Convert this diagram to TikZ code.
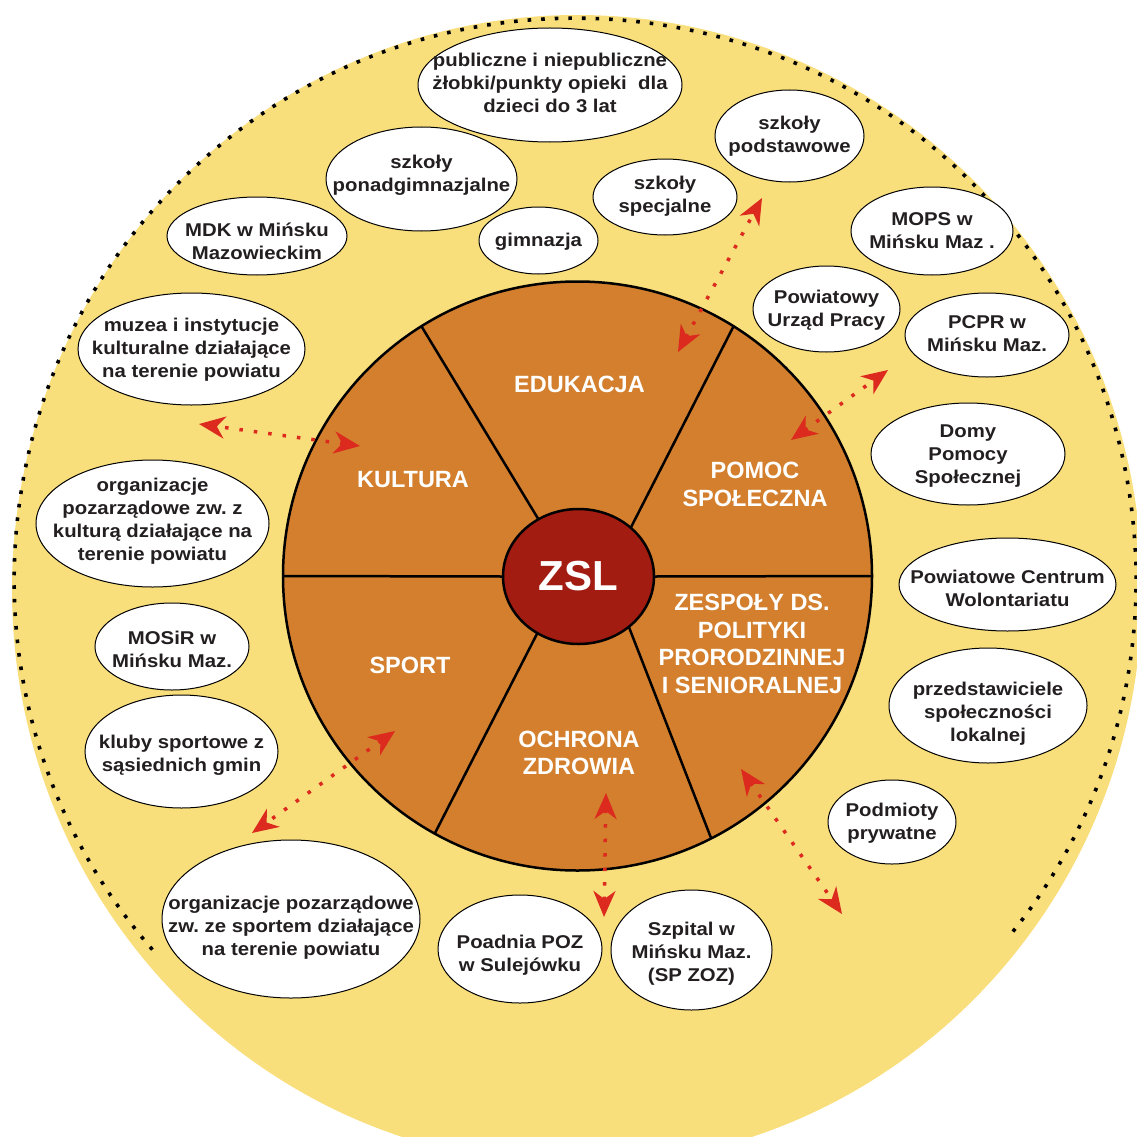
\documentclass[tikz,border=0pt]{standalone}
\usepackage{fontspec}
\setmainfont{Liberation Sans}
\newfontfamily\bubfam{Liberation Sans}[FakeStretch=1.1]
\usetikzlibrary{shapes.geometric,arrows.meta}
\definecolor{ylw}{HTML}{F9DE7C}
\definecolor{org}{HTML}{D37F2D}
\definecolor{zslred}{HTML}{A21C12}
\definecolor{arr}{HTML}{DC2A1E}
\definecolor{txt}{HTML}{231F20}
\newsavebox\bubbox
% text centred on the node centre, moved down by the optional amount (px), with no size of its own
\newcommand\btext[2][0]{\sbox\bubbox{\begin{tabular}{@{}c@{}}#2\end{tabular}}%
  \makebox[0pt]{\raisebox{\dimexpr(\dp\bubbox-\ht\bubbox)/2-#1pt\relax}[0pt][0pt]{\usebox\bubbox}}}
\begin{document}
\frenchspacing
\begin{tikzpicture}[x=1pt,y=-1pt,
  bub/.style={ellipse, draw=black, line width=1pt, fill=white, inner sep=0pt, outer sep=0pt,
    font=\bubfam\bfseries\fontsize{18.5}{23}\selectfont, text=txt},
  sz/.style 2 args={minimum width=#1pt, minimum height=#2pt},
  seg/.style={align=center, text=white, inner sep=0pt, font=\bfseries\fontsize{23.5}{27.5}\selectfont},
  link/.style={arr, line width=3.5pt, dash pattern=on 3.5pt off 11pt,
    {Stealth[length=26pt,width=22pt,inset=8pt]}-{Stealth[length=26pt,width=22pt,inset=8pt]}},
  rim/.style={black, line width=3.6pt, dash pattern=on 3.6pt off 10pt},
  divider/.style={black, line width=2.5pt}]
\useasboundingbox (0,0) rectangle (1136,1137);
% background
\fill[ylw] (577,590) ellipse [x radius=565, y radius=575];
\draw[rim] (152.4,949.6) arc[start angle=138.9, end angle=399.7, x radius=561, y radius=562];
% central disc
\node[circle, draw=black, line width=2.5pt, fill=org, minimum size=589pt, inner sep=0pt, outer sep=0pt] (disc) at (577.5,576) {};
\node[ellipse, draw=black, line width=2.5pt, fill=zslred, minimum width=151pt, minimum height=135pt,
  inner sep=0pt, outer sep=0pt, text=white, font=\bfseries\fontsize{42}{50}\selectfont] (zsl) at (578.5,576.5) {ZSL};
\draw[divider] (zsl.125) -- (disc.122);
\draw[divider] (zsl.43) -- (disc.58);
\draw[divider] (zsl.180) -- (disc.180);
\draw[divider] (zsl.0) -- (disc.0);
\draw[divider] (zsl.234) -- (disc.241);
\draw[divider] (zsl.315) -- (disc.297);
% sector labels
\node[seg] (edu) at (579.5,384) {EDUKACJA};
\node[seg] (kul) at (413,480) {KULTURA};
\node[seg] (pom) at (755,484.5) {POMOC\\SPOŁECZNA};
\node[seg] (spo) at (410,665) {SPORT};
\node[seg] (och) at (579,753) {OCHRONA\\ZDROWIA};
\node[seg] (zes) at (752,644) {ZESPOŁY DS.\\POLITYKI\\PRORODZINNEJ\\I SENIORALNEJ};
% bubbles
\node[bub, sz={264}{114}] (zlobki) at (550,85) {\btext{publiczne i niepubliczne\\żłobki/punkty opieki\ \ dla\\dzieci do 3 lat}};
\node[bub, sz={191}{104}] (ponad) at (421.5,179) {\btext[-4]{szkoły\\ponadgimnazjalne}};
\node[bub, sz={119}{67}] (gim) at (538.5,240.5) {\btext[1.5]{gimnazja}};
\node[bub, sz={144}{76}] (spec) at (665,197) {\btext[-1]{szkoły\\specjalne}};
\node[bub, sz={149}{92}] (podst) at (789.5,136) {\btext[0.5]{szkoły\\podstawowe}};
\node[bub, sz={162}{88}] (mops) at (932,231) {\btext[1.5]{MOPS w\\Mińsku Maz .}};
\node[bub, sz={147}{86}] (pup) at (826.5,309) {\btext[1.5]{Powiatowy\\Urząd Pracy}};
\node[bub, sz={164}{84}] (pcpr) at (987,335) {\btext{PCPR w\\Mińsku Maz.}};
\node[bub, sz={180}{78}] (mdk) at (257,236) {\btext[7]{MDK w Mińsku\\Mazowieckim}};
\node[bub, sz={227}{112}] (muzea) at (191.5,349) {\btext[0.5]{muzea i instytucje\\kulturalne działające\\na terenie powiatu}};
\node[bub, sz={233}{127}] (ngokul) at (152.5,523.5) {\btext[-2.5]{organizacje\\pozarządowe zw. z\\kulturą działające na\\terenie powiatu}};
\node[bub, sz={154}{87}] (mosir) at (172,646.5) {\btext[4.5]{MOSiR w\\Mińsku Maz.}};
\node[bub, sz={193}{113}] (kluby) at (181.5,751.5) {\btext[3.5]{kluby sportowe z\\sąsiednich gmin}};
\node[bub, sz={258}{158}] (ngosport) at (291,919) {\btext[8.5]{organizacje pozarządowe\\zw. ze sportem działające\\na terenie powiatu}};
\node[bub, sz={164}{108}] (poz) at (520,949) {\btext[6]{Poadnia POZ\\w Sulejówku}};
\node[bub, sz={161}{120}] (szpital) at (691.5,950) {\btext[3.5]{Szpital w\\Mińsku Maz.\\(SP ZOZ)}};
\node[bub, sz={128}{84}] (prywatne) at (892,822) {\btext[1.5]{Podmioty\\prywatne}};
\node[bub, sz={198}{115}] (lokalni) at (988,705.5) {\btext[8.5]{przedstawiciele\\społeczności\\lokalnej}};
\node[bub, sz={217}{93}] (pcw) at (1007.5,584.5) {\btext[6]{Powiatowe Centrum\\Wolontariatu}};
\node[bub, sz={194}{102}] (dps) at (968,454) {\btext[1.5]{Domy\\Pomocy\\Społecznej}};
% arrows
\coordinate (eduIn) at (678,352);   \coordinate (eduOut) at (762,198);
\coordinate (pomIn) at (791,440);   \coordinate (pomOut) at (888,370);
\coordinate (kulIn) at (360,446);   \coordinate (kulOut) at (199,424);
\coordinate (spoIn) at (395,731);   \coordinate (spoOut) at (252,833);
\coordinate (ochIn) at (606,793);   \coordinate (ochOut) at (604,917);
\coordinate (zesIn) at (741,769);   \coordinate (zesOut) at (842,914);
\draw[link] (eduIn) -- (eduOut);
\draw[link] (pomIn) -- (pomOut);
\draw[link] (kulIn) -- (kulOut);
\draw[link] (spoIn) -- (spoOut);
\draw[link] (ochIn) -- (ochOut);
\draw[link] (zesIn) -- (zesOut);
\end{tikzpicture}
\end{document}
